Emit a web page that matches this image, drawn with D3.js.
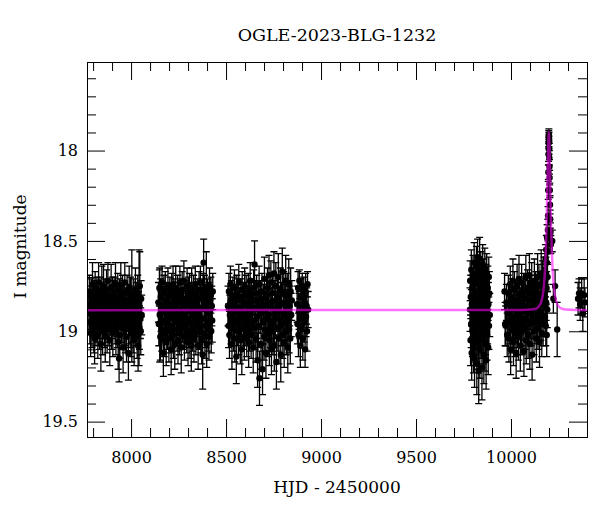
<!DOCTYPE html>
<html>
<head>
<meta charset="utf-8">
<script src="https://cdn.jsdelivr.net/npm/d3@7"></script>
<style>
body { margin: 0; background: #fff; }
text { font-family: "DejaVu Serif", serif; fill: #000; }
</style>
</head>
<body>
<svg id="chart" width="600" height="512"></svg>
<script>
// OGLE photometry: [HJD-2450000, I mag, error], one array per season
let season1 = [
[7778,18.90,.11],[7780,18.78,.09],[7783,18.95,.12],[7785,18.85,.10],[7787,19.01,.13],[7790,18.81,.10],[7792,18.88,.11],[7794,18.97,.12],[7797,18.74,.12],[7799,18.92,.11],
[7801,18.87,.10],[7804,18.99,.13],[7806,18.82,.10],[7808,19.04,.14],[7811,18.76,.09],[7813,18.91,.11],[7815,18.96,.12],[7818,18.84,.10],[7820,18.79,.09],[7822,18.94,.12],
[7825,19.02,.13],[7827,18.86,.10],[7829,18.73,.11],[7832,18.93,.11],[7834,18.98,.12],[7836,18.80,.10],[7839,18.89,.11],[7841,19.07,.15],[7843,18.83,.10],[7846,18.77,.13],
[7848,18.95,.12],[7850,19.00,.13],[7853,18.85,.10],[7855,18.75,.12],[7857,18.90,.11],[7860,18.97,.12],[7862,18.81,.10],[7864,19.03,.14],[7867,18.87,.11],[7869,18.92,.11],
[7871,18.78,.12],[7874,18.99,.13],[7876,18.94,.12],[7878,18.72,.10],[7881,18.88,.11],[7883,18.96,.12],[7885,18.82,.10],[7888,19.05,.14],[7890,18.86,.10],[7892,18.91,.11],
[7895,18.76,.13],[7897,18.98,.12],[7899,18.93,.11],[7902,18.80,.10],[7904,19.01,.13],[7906,18.84,.10],[7909,18.86,.14],[7911,18.79,.09],[7913,18.89,.11],[7916,18.95,.12],
[7918,18.74,.12],[7920,19.00,.13],[7923,18.85,.10],[7925,18.92,.11],[7927,18.97,.12],[7930,18.77,.09],[7932,19.06,.15],[7934,18.83,.10],[7937,19.15,.13],[7939,18.81,.10],
[7941,19.02,.13],[7944,18.88,.11],[7946,18.75,.13],[7948,18.94,.12],[7951,18.98,.12],[7953,18.87,.10],[7955,18.79,.10],[7958,19.09,.14],[7960,18.91,.11],[7962,18.82,.10],
[7965,18.96,.12],[7967,18.73,.11],[7969,18.99,.13],[7972,18.86,.10],[7974,18.93,.11],[7976,19.03,.14],[7979,18.78,.09],[7981,18.89,.11],[7983,18.84,.10],[7986,19.12,.15],
[7988,18.95,.12],[7990,18.76,.12],[7993,18.91,.11],[7995,18.97,.12],[7997,18.80,.10],[8000,19.01,.13],[8002,18.85,.10],[8004,18.86,.31],[8007,18.94,.12],[8009,18.88,.11],
[8011,18.99,.13],[8014,18.81,.10],[8016,19.05,.14],[8018,18.87,.11],[8021,18.92,.11],[8023,18.77,.12],[8025,18.96,.12],[8028,18.90,.11],[8030,18.83,.10],[8032,19.02,.13],
[8035,18.79,.10],[8037,19.08,.14],[8039,18.89,.11],[8042,18.87,.32],[8044,18.98,.12],[8046,18.75,.19],[8049,18.93,.11],[8051,19.00,.13],[8053,18.82,.10],[8056,18.91,.11]
];
let season2 = [
[8144,18.84,.11],[8146,18.96,.12],[8149,18.76,.10],[8151,18.91,.26],[8154,19.03,.13],[8156,18.81,.10],[8158,18.89,.11],[8161,18.99,.12],[8163,18.73,.09],[8166,18.94,.12],
[8168,18.86,.11],[8170,19.12,.13],[8173,18.79,.10],[8175,19.01,.13],[8178,18.88,.11],[8180,18.77,.10],[8182,18.95,.12],[8185,19.06,.13],[8187,18.83,.10],[8190,18.90,.11],
[8192,18.98,.12],[8194,18.75,.10],[8197,18.87,.11],[8199,19.04,.13],[8202,18.93,.12],[8204,18.80,.10],[8206,19.00,.12],[8209,18.85,.11],[8211,19.10,.14],[8214,18.78,.10],
[8216,18.92,.11],[8218,18.97,.12],[8221,18.74,.10],[8223,19.02,.13],[8226,18.82,.11],[8228,18.89,.11],[8230,19.07,.14],[8233,18.86,.10],[8235,18.76,.12],[8238,18.95,.12],
[8240,18.91,.11],[8242,18.99,.12],[8245,18.79,.10],[8247,19.05,.13],[8250,18.84,.11],[8252,18.88,.11],[8254,19.01,.12],[8257,18.73,.09],[8259,18.96,.12],[8262,18.81,.10],
[8264,19.09,.14],[8266,18.90,.11],[8269,18.77,.10],[8271,18.94,.12],[8274,18.98,.12],[8276,18.87,.11],[8278,18.72,.11],[8281,19.03,.13],[8283,18.92,.11],[8286,18.82,.10],
[8288,18.97,.12],[8290,18.85,.11],[8293,19.00,.12],[8295,18.75,.10],[8298,18.93,.11],[8300,19.06,.13],[8302,18.80,.10],[8305,18.89,.11],[8307,18.78,.10],[8310,19.02,.13],
[8312,18.95,.12],[8314,18.83,.10],[8317,19.08,.14],[8319,18.76,.11],[8322,18.91,.11],[8324,18.99,.12],[8326,18.86,.11],[8329,18.79,.10],[8331,19.04,.13],[8334,18.88,.11],
[8336,18.94,.12],[8338,18.74,.10],[8341,19.01,.12],[8343,18.84,.11],[8346,18.96,.12],[8348,18.81,.10],[8350,18.87,.11],[8353,19.08,.13],[8355,18.90,.11],[8358,18.77,.10],
[8360,18.98,.12],[8362,18.92,.11],[8365,18.73,.09],[8367,19.00,.12],[8370,18.87,.11],[8372,19.05,.13],[8374,18.82,.11],[8377,19.13,.19],[8379,18.78,.10],[8382,18.62,.13],
[8384,18.93,.11],[8386,18.79,.10],[8389,19.02,.13],[8391,18.85,.11],[8394,18.97,.12],[8396,18.76,.20],[8398,19.07,.13],[8401,18.89,.11],[8403,18.81,.10],[8406,18.99,.12],
[8408,18.84,.11],[8410,19.03,.13],[8413,18.75,.10],[8415,18.95,.12],[8418,18.88,.11],[8420,18.80,.10],[8422,19.00,.12],[8425,18.86,.11],[8427,18.94,.12],[8430,18.78,.10]
];
let season3 = [
[8510,18.86,.11],[8513,18.97,.12],[8515,18.78,.10],[8518,19.02,.13],[8520,18.91,.11],[8523,18.74,.10],[8526,18.95,.12],[8528,18.83,.11],[8531,19.07,.14],[8533,18.88,.11],
[8536,18.80,.10],[8539,18.99,.12],[8541,18.93,.11],[8544,18.76,.10],[8546,19.04,.13],[8549,18.85,.11],[8552,18.90,.11],[8554,19.14,.15],[8557,18.79,.10],[8559,18.96,.12],
[8562,18.82,.11],[8565,19.00,.13],[8567,18.73,.10],[8570,18.94,.12],[8572,18.87,.11],[8575,19.05,.13],[8578,18.81,.10],[8580,18.92,.12],[8583,19.10,.14],[8585,18.77,.10],
[8588,18.89,.11],[8591,18.98,.12],[8593,18.84,.11],[8596,19.03,.13],[8598,18.75,.10],[8601,18.91,.11],[8604,18.96,.12],[8606,18.80,.11],[8609,19.01,.13],[8611,18.86,.11],
[8614,18.93,.12],[8617,18.78,.10],[8619,19.06,.14],[8622,18.84,.11],[8624,18.99,.12],[8627,18.72,.10],[8630,18.90,.11],[8632,19.02,.13],[8635,18.81,.10],[8637,18.95,.12],
[8640,18.87,.11],[8643,19.09,.14],[8645,18.76,.10],[8648,18.94,.12],[8650,18.63,.13],[8653,18.98,.12],[8656,18.83,.11],[8658,19.04,.13],[8661,18.79,.10],[8663,18.92,.12],
[8666,19.16,.15],[8669,18.86,.11],[8671,18.97,.12],[8674,18.74,.10],[8676,19.26,.15],[8679,18.90,.11],[8682,18.82,.10],[8684,19.07,.14],[8687,18.88,.11],[8689,18.78,.10],
[8692,19.21,.14],[8695,18.95,.12],[8697,18.85,.11],[8700,19.03,.13],[8702,18.71,.12],[8705,18.99,.12],[8708,18.89,.11],[8710,19.12,.14],[8713,18.80,.10],[8715,18.93,.12],
[8718,18.76,.11],[8721,19.01,.13],[8723,18.91,.12],[8726,18.69,.11],[8728,19.05,.14],[8731,18.84,.11],[8734,18.97,.12],[8736,18.73,.12],[8739,19.10,.14],[8741,18.87,.11],
[8744,18.79,.11],[8747,19.00,.13],[8749,18.94,.12],[8752,18.68,.12],[8754,19.08,.14],[8757,18.83,.11],[8760,18.92,.12],[8762,18.75,.13],[8765,19.17,.15],[8767,18.89,.11],
[8770,18.81,.12],[8773,18.98,.13],[8775,18.70,.13],[8778,19.04,.14],[8780,18.86,.11],[8783,18.93,.12],[8786,18.77,.12],[8788,19.13,.15],[8791,18.84,.11],[8793,18.96,.12],
[8796,18.67,.13],[8799,19.02,.13],[8801,18.90,.11],[8804,18.79,.12],[8806,19.06,.14],[8809,18.85,.11],[8812,18.95,.12],[8814,18.72,.14],[8817,19.00,.13],[8819,18.88,.11],
[8822,18.80,.12],[8825,19.09,.14],[8827,18.93,.12],[8830,18.74,.14],[8832,18.99,.13],[8835,18.86,.11],[8838,19.04,.14],[8840,18.78,.13],[8843,18.91,.12],[8846,18.83,.11]
];
let season3b = [
[8874,18.85,.10],[8876,18.96,.11],[8879,18.76,.09],[8881,19.02,.12],[8884,18.89,.10],[8886,18.72,.06],[8889,18.93,.11],[8891,19.08,.12],
[8894,18.81,.10],[8896,18.98,.11],[8899,18.87,.10],[8901,18.75,.07],[8904,19.04,.12],[8906,18.90,.10],[8909,18.79,.09],[8911,18.95,.11],
[8914,18.84,.10],[8916,19.10,.10],[8919,18.78,.10],[8921,18.92,.11],[8924,18.86,.10],[8926,19.00,.11],[8929,18.74,.07],[8932,18.88,.10]
];
let season4 = [
[9784,18.88,.12],[9785,18.72,.11],[9787,19.05,.14],[9788,18.81,.12],[9790,18.96,.13],[9791,18.66,.11],[9793,19.12,.15],[9794,18.85,.12],[9796,18.76,.11],[9797,19.00,.14],
[9799,18.91,.12],[9800,18.69,.11],[9802,19.08,.15],[9803,18.83,.12],[9805,18.94,.13],[9806,18.62,.11],[9808,19.15,.16],[9809,18.79,.12],[9811,18.99,.14],[9812,18.87,.12],
[9814,18.73,.11],[9815,19.03,.14],[9817,18.90,.12],[9818,18.64,.11],[9820,19.18,.17],[9821,18.82,.12],[9823,18.97,.13],[9824,18.59,.10],[9826,19.06,.15],[9827,18.86,.12],
[9829,18.70,.11],[9830,19.22,.18],[9832,18.93,.13],[9833,18.77,.12],[9835,18.60,.12],[9836,19.10,.16],[9838,18.84,.12],[9839,18.98,.14],[9841,18.67,.11],[9842,19.01,.14],
[9844,18.89,.13],[9845,18.75,.12],[9847,19.20,.18],[9848,18.80,.12],[9850,18.95,.13],[9851,18.63,.11],[9853,19.04,.14],[9854,18.86,.12],[9856,18.71,.11],[9857,19.13,.16],
[9859,18.92,.13],[9860,18.78,.12],[9862,18.65,.11],[9863,19.07,.15],[9865,18.83,.12],[9866,18.99,.14],[9868,18.74,.11],[9869,19.16,.16],[9871,18.88,.12],[9872,18.68,.11],
[9874,19.02,.14],[9875,18.81,.12],[9877,18.94,.13],[9878,18.76,.12],[9880,19.09,.15],[9881,18.85,.12],[9883,18.70,.11],[9884,18.97,.13],[9886,18.79,.12],[9888,18.91,.12]
];
let season5 = [
[9966,18.78,.10],[9969,18.96,.12],[9972,18.97,.11],[9976,18.84,.10],[9980,19.02,.12],
[9984,18.90,.11],[9986,18.79,.10],[9989,19.04,.13],[9991,18.85,.11],[9994,18.95,.12],[9996,18.74,.10],[9998,19.10,.14],[10001,18.88,.11],[10003,18.81,.10],[10006,18.99,.13],
[10008,18.92,.12],[10010,18.72,.12],[10013,19.06,.13],[10015,18.86,.11],[10018,18.77,.10],[10020,19.01,.13],[10022,18.94,.12],[10025,18.83,.11],[10027,19.12,.14],[10030,18.89,.11],
[10032,18.75,.12],[10034,18.97,.12],[10037,18.84,.11],[10039,19.03,.13],[10042,18.71,.13],[10044,18.91,.11],[10046,18.80,.10],[10049,19.08,.14],[10051,18.87,.11],[10054,18.96,.12],
[10056,18.73,.10],[10058,19.00,.13],[10061,18.85,.11],[10063,18.93,.12],[10066,18.78,.10],[10068,19.11,.14],[10070,18.89,.11],[10073,18.82,.11],[10075,18.98,.12],[10078,18.70,.12],
[10080,19.05,.13],[10082,18.86,.11],[10085,18.94,.12],[10087,18.76,.10],[10090,19.02,.13],[10092,18.83,.11],[10094,18.90,.11],[10097,18.69,.12],[10099,19.07,.14],[10102,18.88,.11],
[10104,18.79,.10],[10106,18.96,.12],[10109,18.74,.12],[10111,19.13,.14],[10114,18.85,.11],[10116,18.92,.12],[10118,18.81,.10],[10121,19.00,.13],[10123,18.72,.12],[10126,18.95,.12],
[10128,18.87,.11],[10130,18.77,.10],[10133,19.04,.13],[10135,18.84,.11],[10138,18.91,.12],[10140,18.70,.13],[10142,18.98,.12],[10145,18.86,.11],[10147,18.75,.12],[10150,19.06,.14],
[10152,18.89,.11],[10154,18.80,.10],[10157,18.93,.12],[10159,18.68,.13],[10162,19.01,.13],[10164,18.85,.11],[10166,18.73,.12],[10169,18.96,.12],[10171,18.82,.11],[10174,18.70,.11],
[10176,18.78,.10],[10178,18.66,.09],[10179,18.92,.11],[10181,18.72,.09],[10182,18.60,.08],[10183,18.97,.11],[10184,18.68,.09],[10185,18.84,.10],[10186,18.55,.08],
[10187,18.76,.09],[10188,19.02,.12],[10189,18.62,.08],[10190,18.48,.07],[10191,18.88,.10],[10192,18.70,.08],[10193,18.56,.07],[10194,18.44,.06]
];
let peak = [
[10195.0,18.36,.05],[10196.0,18.22,.05],[10196.8,18.12,.04],[10197.5,18.02,.04],[10198.2,17.96,.03],[10198.8,17.92,.03],
[10199.3,17.91,.03],[10199.8,17.93,.03],[10200.4,17.95,.03],[10201.0,17.99,.03],[10201.7,18.04,.04],[10202.4,18.09,.04],
[10203.2,18.15,.04],[10204.2,18.22,.04],[10205.3,18.30,.05],[10206.5,18.38,.05],[10207.8,18.45,.05],[10209.5,18.52,.05]
];
let afterPeak = [[10217,18.50,.06],[10223,18.82,.08],[10232,18.75,.09],[10243,18.99,.15]];
let season6 = [[10353,18.82,.09],[10358,18.79,.08],[10364,18.85,.09],[10372,18.79,.08],[10378,18.90,.10],[10385,18.80,.09],[10389,18.84,.08]];

// microlensing model curve [HJD-2450000, I mag]
let model = [
[7768,18.883],[10049,18.882],[10119,18.878],[10144,18.866],[10159,18.838],[10169,18.787],[10174,18.737],
[10179,18.656],[10183,18.556],[10187,18.414],[10190,18.274],[10193,18.111],[10196,17.961],[10199,17.895],
[10202,17.961],[10205,18.111],[10208,18.274],[10211,18.414],[10215,18.556],[10219,18.656],[10224,18.737],
[10229,18.787],[10239,18.838],[10254,18.866],[10279,18.878],[10349,18.882],[10400,18.883]
];

let xMajor = [8000, 8500, 9000, 9500, 10000];
let yMajor = [18, 18.5, 19, 19.5];
let title = 'OGLE-2023-BLG-1232';
let xTitle = 'HJD - 2450000';
let yTitle = 'I magnitude';

let mLeft = 87, mRight = 587, mTop = 62, mBottom = 437;
let svg = d3.select('#chart');

let x = d3.scaleLinear().domain([7768, 10400]).range([mLeft, mRight]);
let y = d3.scaleLinear().domain([17.51, 19.585]).range([mTop, mBottom]);

let xMinor = d3.range(7800, 10401, 100).filter(d => d % 500 != 0);
let yMinor = d3.range(176, 196).filter(d => d % 5 != 0).map(d => d / 10);

let points = [].concat(season1, season2, season3, season3b, season4, season5, peak, afterPeak, season6);

svg.append('clipPath').attr('id', 'plotClip')
    .append('rect').attr('x', mLeft).attr('y', mTop).attr('width', mRight - mLeft).attr('height', mBottom - mTop);

let plot = svg.append('g').attr('clip-path', 'url(#plotClip)');

// error bars
let bars = plot.append('g').attr('stroke', '#000').attr('stroke-width', 1.3).attr('fill', 'none');
bars.selectAll('path').data(points).join('path')
    .attr('d', d => {
        let px = x(d[0]), y1 = y(d[1] - d[2]), y2 = y(d[1] + d[2]);
        return `M${px},${y1}V${y2}M${px - 3.5},${y1}H${px + 3.5}M${px - 3.5},${y2}H${px + 3.5}`;
    });

plot.append('g').selectAll('circle').data(points).join('circle')
    .attr('cx', d => x(d[0]))
    .attr('cy', d => y(d[1]))
    .attr('r', 3.2)
    .attr('fill', '#000');

let line = d3.line().x(d => x(d[0])).y(d => y(d[1])).curve(d3.curveMonotoneX);
plot.append('path').datum(model)
    .attr('d', line)
    .attr('fill', 'none')
    .attr('stroke', '#ff00ff')
    .attr('stroke-opacity', 0.55)
    .attr('stroke-width', 2.5);

// axes, ticks inward on all four sides
function styleAxis(g) {
    g.select('.domain').remove();
    g.attr('font-family', null).attr('font-size', null);
    g.selectAll('text').style('font-size', '16px');
    g.selectAll('line').attr('stroke', '#000');
}
let noLabel = () => '';

svg.append('g').attr('transform', `translate(0,${mBottom})`)
    .call(d3.axisBottom(x).tickValues(xMajor).tickSize(-18).tickPadding(15).tickFormat(d => d)).call(styleAxis);
svg.append('g').attr('transform', `translate(0,${mBottom})`)
    .call(d3.axisBottom(x).tickValues(xMinor).tickSize(-9).tickFormat(noLabel)).call(styleAxis);
svg.append('g').attr('transform', `translate(0,${mTop})`)
    .call(d3.axisTop(x).tickValues(xMajor).tickSize(-18).tickFormat(noLabel)).call(styleAxis);
svg.append('g').attr('transform', `translate(0,${mTop})`)
    .call(d3.axisTop(x).tickValues(xMinor).tickSize(-9).tickFormat(noLabel)).call(styleAxis);

svg.append('g').attr('transform', `translate(${mLeft},0)`)
    .call(d3.axisLeft(y).tickValues(yMajor).tickSize(-18).tickPadding(9).tickFormat(d => d)).call(styleAxis);
svg.append('g').attr('transform', `translate(${mLeft},0)`)
    .call(d3.axisLeft(y).tickValues(yMinor).tickSize(-9).tickFormat(noLabel)).call(styleAxis);
svg.append('g').attr('transform', `translate(${mRight},0)`)
    .call(d3.axisRight(y).tickValues(yMajor).tickSize(-18).tickFormat(noLabel)).call(styleAxis);
svg.append('g').attr('transform', `translate(${mRight},0)`)
    .call(d3.axisRight(y).tickValues(yMinor).tickSize(-9).tickFormat(noLabel)).call(styleAxis);

svg.append('rect')
    .attr('x', mLeft + 0.5).attr('y', mTop + 0.5)
    .attr('width', mRight - mLeft).attr('height', mBottom - mTop)
    .attr('fill', 'none').attr('stroke', '#000').attr('stroke-width', 1);

svg.append('text').attr('x', (mLeft + mRight) / 2).attr('y', 41)
    .attr('text-anchor', 'middle').style('font-size', '17.5px').text(title);
svg.append('text').attr('x', (mLeft + mRight) / 2).attr('y', 493)
    .attr('text-anchor', 'middle').style('font-size', '17px').text(xTitle);
svg.append('text').attr('transform', `translate(26,${(mTop + mBottom) / 2 - 3}) rotate(-90)`)
    .attr('text-anchor', 'middle').style('font-size', '17px').text(yTitle);
</script>
</body>
</html>
